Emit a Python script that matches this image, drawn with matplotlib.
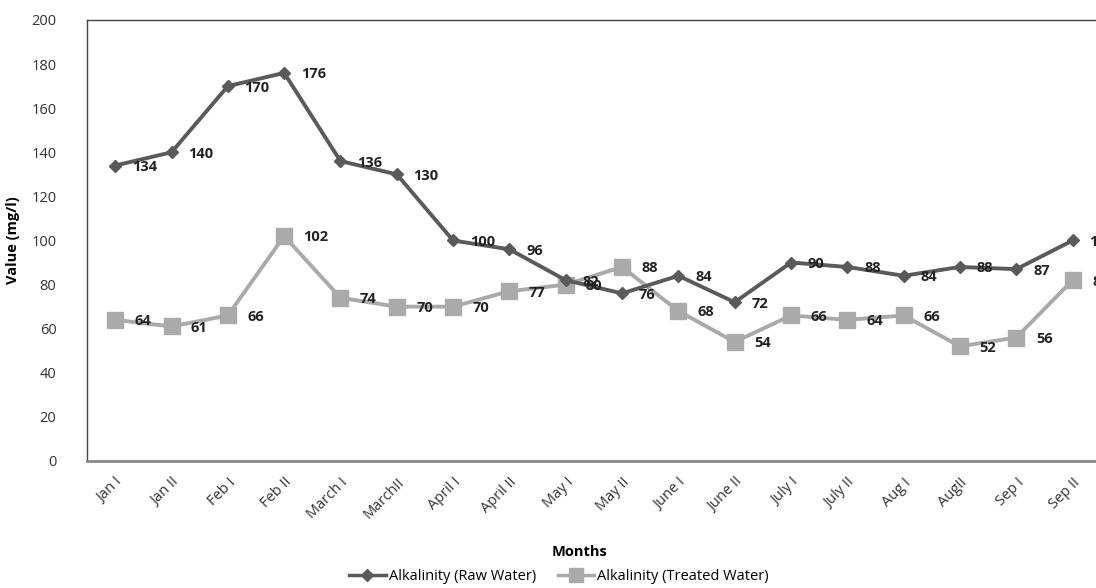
import matplotlib.pyplot as plt
from matplotlib.lines import Line2D

plt.rcParams['font.family'] = ['Open Sans', 'DejaVu Sans']

# Datos de alcalinidad por quincena
months = ['Jan I', 'Jan II', 'Feb I', 'Feb II', 'March I', 'MarchII', 'April I',
          'April II', 'May I', 'May II', 'June I', 'June II', 'July I', 'July II',
          'Aug I', 'AugII', 'Sep I', 'Sep II']
raw_water = [134, 140, 170, 176, 136, 130, 100, 96, 82, 76, 84, 72, 90, 88, 84, 88, 87, 100]
treated_water = [64, 61, 66, 102, 74, 70, 70, 77, 80, 88, 68, 54, 66, 64, 66, 52, 56, 82]

dark = '#5a5a5a'
light = '#aaaaaa'

fig = plt.figure(figsize=(10.96, 5.88), dpi=100)
ax = fig.add_axes([0.0794, 0.216, 0.925, 0.750])

x = list(range(len(months)))
ax.plot(x, raw_water, color=dark, lw=2.8, marker='D', ms=6.5, mfc=dark, mec=dark, zorder=3)
ax.plot(x, treated_water, color=light, lw=2.8, marker='s', ms=11, mfc=light, mec=light, zorder=2)

# Etiquetas de valor a la derecha de cada punto
for xi, v in zip(x, raw_water):
    ax.annotate(str(v), (xi, v), xytext=(12, -1), textcoords='offset points',
                ha='left', va='center', fontsize=10.5, fontweight='bold', color='#222222',
                annotation_clip=False)
for xi, v in zip(x, treated_water):
    ax.annotate(str(v), (xi, v), xytext=(14, -1), textcoords='offset points',
                ha='left', va='center', fontsize=10.5, fontweight='bold', color='#222222',
                annotation_clip=False)

ax.set_xlim(-0.5, len(months) - 0.5)
ax.set_ylim(0, 200)
ax.set_yticks(range(0, 201, 20))
ax.set_xticks(x)
ax.set_xticklabels(months, rotation=45, ha='right', rotation_mode='anchor',
                   fontsize=10.5, color='#333333')
ax.tick_params(axis='y', length=0, pad=22, labelsize=10.5, labelcolor='#333333')
ax.tick_params(axis='x', length=0, pad=10)

ax.spines['right'].set_visible(False)
ax.spines['left'].set_color('#444444')
ax.spines['top'].set_color('#444444')
ax.spines['bottom'].set_color('#888888')
ax.spines['bottom'].set_linewidth(2)
for s in ['left', 'top']:
    ax.spines[s].set_linewidth(1)

ax.set_ylabel('Value (mg/l)', fontsize=10.5, fontweight='bold')
ax.yaxis.set_label_coords(-0.066, 0.5)
ax.set_xlabel('Months', fontsize=10.5, fontweight='bold')
ax.xaxis.set_label_coords(0.486, -0.19)

handles = [
    Line2D([0], [0], color=dark, lw=2.5, marker='D', ms=6, mfc=dark, mec=dark),
    Line2D([0], [0], color=light, lw=2.5, marker='s', ms=10, mfc=light, mec=light),
]
fig.legend(handles, ['Alkalinity (Raw Water)', 'Alkalinity (Treated Water)'],
           loc='center', bbox_to_anchor=(0.51, 0.02), ncol=2, frameon=False,
           fontsize=10.5, handlelength=2.5, handletextpad=0.2, columnspacing=1.5)

plt.savefig('out.png', dpi=100)
